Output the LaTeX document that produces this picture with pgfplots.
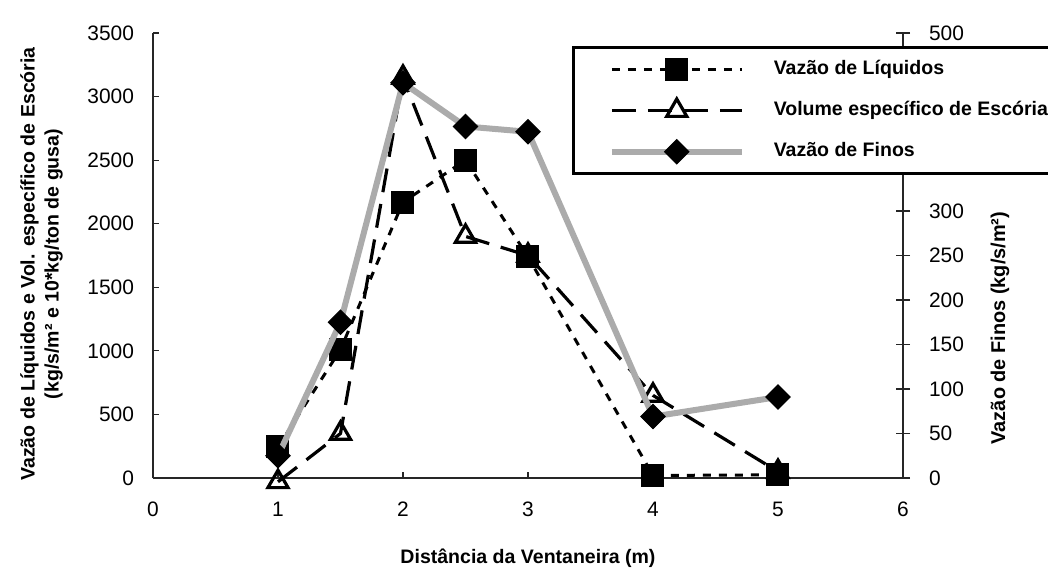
\documentclass[border=0pt]{standalone}
\usepackage{fontspec}
\setmainfont{Liberation Sans}
\usepackage{pgfplots}
\pgfplotsset{compat=1.18}
\pgfplotsset{
  liq/.style={black, line width=1.5bp, dash pattern=on 4bp off 4bp, mark=square*, mark size=5.5bp, mark options={solid, fill=black, line width=0.5bp}},
  esc/.style={black, line width=1.6bp, dash pattern=on 12bp off 6bp, mark=triangle, mark size=5.8bp, mark options={solid, fill=white, line width=1.6bp}},
  fin/.style={color=black!33, line width=3bp, mark=square*, mark size=4.3bp, mark options={solid, draw=black, fill=black, rotate=45, line width=0.5bp}},
}
\begin{document}
\begin{tikzpicture}
\begin{axis}[
  at={(0,0)}, anchor=south west,
  scale only axis, width=375bp, height=222.5bp,
  xmin=0, xmax=6, ymin=0, ymax=3500,
  clip=false,
  axis x line*=bottom, axis y line*=left,
  axis line style={line width=0.8bp, black!85, -},
  xtick={0,1,...,6}, ytick={0,500,...,3500},
  tick align=inside, major tick length=3bp,
  tick style={black!85, line width=0.6bp},
  tick label style={font=\fontsize{10.5}{12}\selectfont},
  /pgf/number format/assume math mode=true,
  /pgf/number format/1000 sep={},
  xticklabel style={yshift=-8.5bp},
  yticklabel style={xshift=-6bp},
  xlabel={Distância da Ventaneira (m)},
  xlabel style={font=\fontsize{9.8}{12}\selectfont\bfseries, at={(axis description cs:0.5,-0.18)}, anchor=center},
  ylabel={Vazão de Líquidos e Vol. específico de Escória\\(kg/s/m² e 10*kg/ton de gusa)},
  ylabel style={font=\fontsize{9.8}{12}\selectfont\bfseries, align=center, at={(axis description cs:-0.1487,0.481)}, anchor=center},
]
\addplot[liq] coordinates {(1,244) (1.5,1010) (2,2170) (2.5,2500) (3,1740) (4,20) (5,25)};
\addplot[esc] coordinates {(1,-30) (1.5,350) (2,3150) (2.5,1900) (3,1750) (4,650) (5,50)};
\end{axis}
\begin{axis}[
  at={(0,0)}, anchor=south west,
  scale only axis, width=375bp, height=222.5bp,
  xmin=0, xmax=6, ymin=0, ymax=500,
  clip=false,
  axis x line=none, axis y line*=right,
  axis line style={line width=0.8bp, black!85, -},
  ytick={0,50,...,500},
  yticklabels={0,50,100,150,200,250,300,,,,500},
  tick align=center, major tick length=7bp,
  tick style={black!85, line width=0.6bp},
  tick label style={font=\fontsize{10.5}{12}\selectfont},
  /pgf/number format/assume math mode=true,
  yticklabel style={xshift=6bp},
  ylabel={Vazão de Finos (kg/s/m²)},
  ylabel style={font=\fontsize{10}{12}\selectfont\bfseries, at={(axis description cs:1.1293,0.337)}, anchor=center, rotate=0},
  legend cell align=left,
  legend style={at={(0.559,0.971)}, anchor=north west, draw=black, line width=1.5bp, fill=white,
    inner xsep=0pt, inner ysep=4bp, row sep=6.6bp,
    font=\fontsize{9.8}{12}\selectfont\bfseries,
    nodes={text height=7.5bp, text depth=2.5bp, inner xsep=3.5bp}},
  legend image code/.code={
    \path[draw=none] (0bp,0bp) -- (96.5bp,0bp);
    \draw[mark repeat=2, mark phase=2, #1] plot coordinates {(19bp,0bp) (51.5bp,0bp) (84bp,0bp)};
  },
]
\addlegendimage{liq}
\addlegendentry{Vazão de Líquidos}
\addlegendimage{esc}
\addlegendentry{Volume específico de Escória}
\addplot[fin] coordinates {(1,25) (1.5,175) (2,444) (2.5,395) (3,389) (4,69) (5,91)};
\addlegendentry{Vazão de Finos}
\end{axis}
\pgfresetboundingbox
\path (-76.5bp,-47bp) rectangle (447.5bp,239bp);
\end{tikzpicture}
\end{document}
